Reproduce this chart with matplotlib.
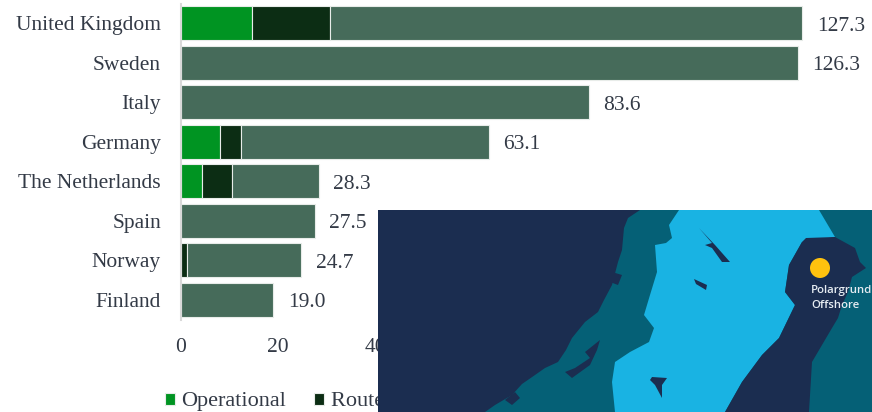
import matplotlib
matplotlib.use('Agg')
import matplotlib.pyplot as plt
from matplotlib.patches import Polygon, Circle, Rectangle

countries = ['United Kingdom', 'Sweden', 'Italy', 'Germany', 'The Netherlands', 'Spain', 'Norway', 'Finland']
operational = [14.7, 0, 0, 8.0, 4.3, 0, 0, 0]
route = [15.9, 0, 0, 4.3, 6.3, 0, 1.4, 0]
pipeline = [96.7, 126.3, 83.6, 50.8, 17.7, 27.5, 23.3, 19.0]
totals = [127.3, 126.3, 83.6, 63.1, 28.3, 27.5, 24.7, 19.0]
xticks = [0, 20, 40, 60, 80, 100, 120]

W, H = 872, 412
plt.rcParams['font.family'] = ['Liberation Serif', 'DejaVu Serif']
text_col = '#333a46'

fig = plt.figure(figsize=(W / 100, H / 100), dpi=100)
ax = fig.add_axes([180.5 / W, 1 - 319.5 / H, 684 / W, 316 / H])

y = list(range(len(countries)))
ax.barh(y, operational, height=0.86, color='#009422', edgecolor='#e8ece9', linewidth=0.8, label='Operational')
left = list(operational)
ax.barh(y, route, left=left, height=0.86, color='#0c2d14', edgecolor='#e8ece9', linewidth=0.8, label='Route to market')
left = [a + b for a, b in zip(left, route)]
ax.barh(y, pipeline, left=left, height=0.86, color='#466b5a', edgecolor='#e8ece9', linewidth=0.8, label='Pipeline')

for i, t in enumerate(totals):
    ax.annotate(f'{t:.1f}', (t, i), xytext=(10.5, -2), textcoords='offset points',
                va='center', ha='left', fontsize=15.5, color=text_col)

ax.set_xlim(0, 140)
ax.set_ylim(len(countries) - 0.5, -0.5)
ax.set_yticks(y, countries)
ax.set_xticks(xticks)
ax.tick_params(axis='both', length=0, labelsize=15.5, labelcolor=text_col)
ax.tick_params(axis='y', pad=14)
ax.tick_params(axis='x', pad=13)
for s in ['top', 'right', 'bottom']:
    ax.spines[s].set_visible(False)
ax.spines['left'].set_color('#d9d9d9')
ax.spines['left'].set_linewidth(1.5)

fig.legend(loc='lower left', bbox_to_anchor=(149 / W, -15 / H), ncol=3, frameon=False, fontsize=16,
           handlelength=0.45, handleheight=0.45, handletextpad=0.3, columnspacing=1.25,
           labelcolor=text_col, borderpad=0.2)

# map photo laid over the right hand side of the chart, pixel coordinates
m = fig.add_axes([0, 0, 1, 1], zorder=10)
m.set_xlim(0, W)
m.set_ylim(H, 0)
m.axis('off')
navy = '#1b2d50'
teal = '#056076'
sky = '#19b3e3'
m.add_patch(Rectangle((378, 210), W - 378, H - 210, color=teal, lw=0))
m.add_patch(Polygon([(378, 210), (640, 210), (628, 218), (624, 228), (622, 250), (618, 262), (612, 285),
                     (604, 300), (598, 312), (585, 322), (572, 338), (566, 350), (558, 362), (545, 368),
                     (535, 375), (522, 384), (512, 395), (495, 405), (485, 412), (378, 412)], color=navy, lw=0))
m.add_patch(Polygon([(679, 210), (669, 225), (672, 238), (666, 243), (655, 245), (657, 272), (650, 295),
                     (644, 315), (654, 328), (649, 342), (630, 352), (615, 362), (612, 382), (615, 412),
                     (725, 412), (742, 382), (762, 355), (779, 338), (795, 305), (785, 292), (789, 265),
                     (802, 242), (835, 237), (819, 210)],
                    color=sky, lw=0))
m.add_patch(Polygon([(802, 242), (806, 238), (835, 237), (855, 248), (860, 262), (866, 268), (852, 277),
                     (848, 292), (842, 305), (838, 318), (832, 328), (822, 345), (812, 362), (809, 412),
                     (725, 412), (742, 382), (762, 355), (779, 338), (795, 305), (785, 292), (789, 265)],
                    color=navy, lw=0))
# lakes and islands
m.add_patch(Polygon([(699, 228), (715, 245), (730, 262), (722, 262), (712, 248), (705, 245), (712, 243)], color=navy, lw=0))
m.add_patch(Polygon([(694, 279), (707, 285), (706, 290), (696, 284)], color=navy, lw=0))
m.add_patch(Polygon([(652, 377), (667, 378), (662, 385), (662, 398), (655, 385), (650, 380)], color=navy, lw=0))
m.add_patch(Polygon([(600, 340), (585, 352), (590, 358), (575, 368), (565, 372), (572, 378), (590, 365), (597, 350)], color=navy, lw=0))
m.add_patch(Polygon([(612, 272), (622, 275), (618, 285), (610, 282)], color=navy, lw=0))
m.add_patch(Polygon([(540, 352), (550, 350), (548, 356), (538, 358)], color=navy, lw=0))
m.add_patch(Polygon([(505, 400), (515, 392), (520, 398), (512, 405)], color=navy, lw=0))
m.add_patch(Circle((820, 268), 10, color='#ffc20e', lw=0))
m.text(811, 291, 'Polargrund', color='#e6ecf2', fontsize=8.2, family='Open Sans', weight='semibold', va='center', ha='left')
m.text(811, 305, 'Offshore', color='#e6ecf2', fontsize=8.2, family='Open Sans', weight='semibold', va='center', ha='left')

fig.savefig('out.png', dpi=100)
